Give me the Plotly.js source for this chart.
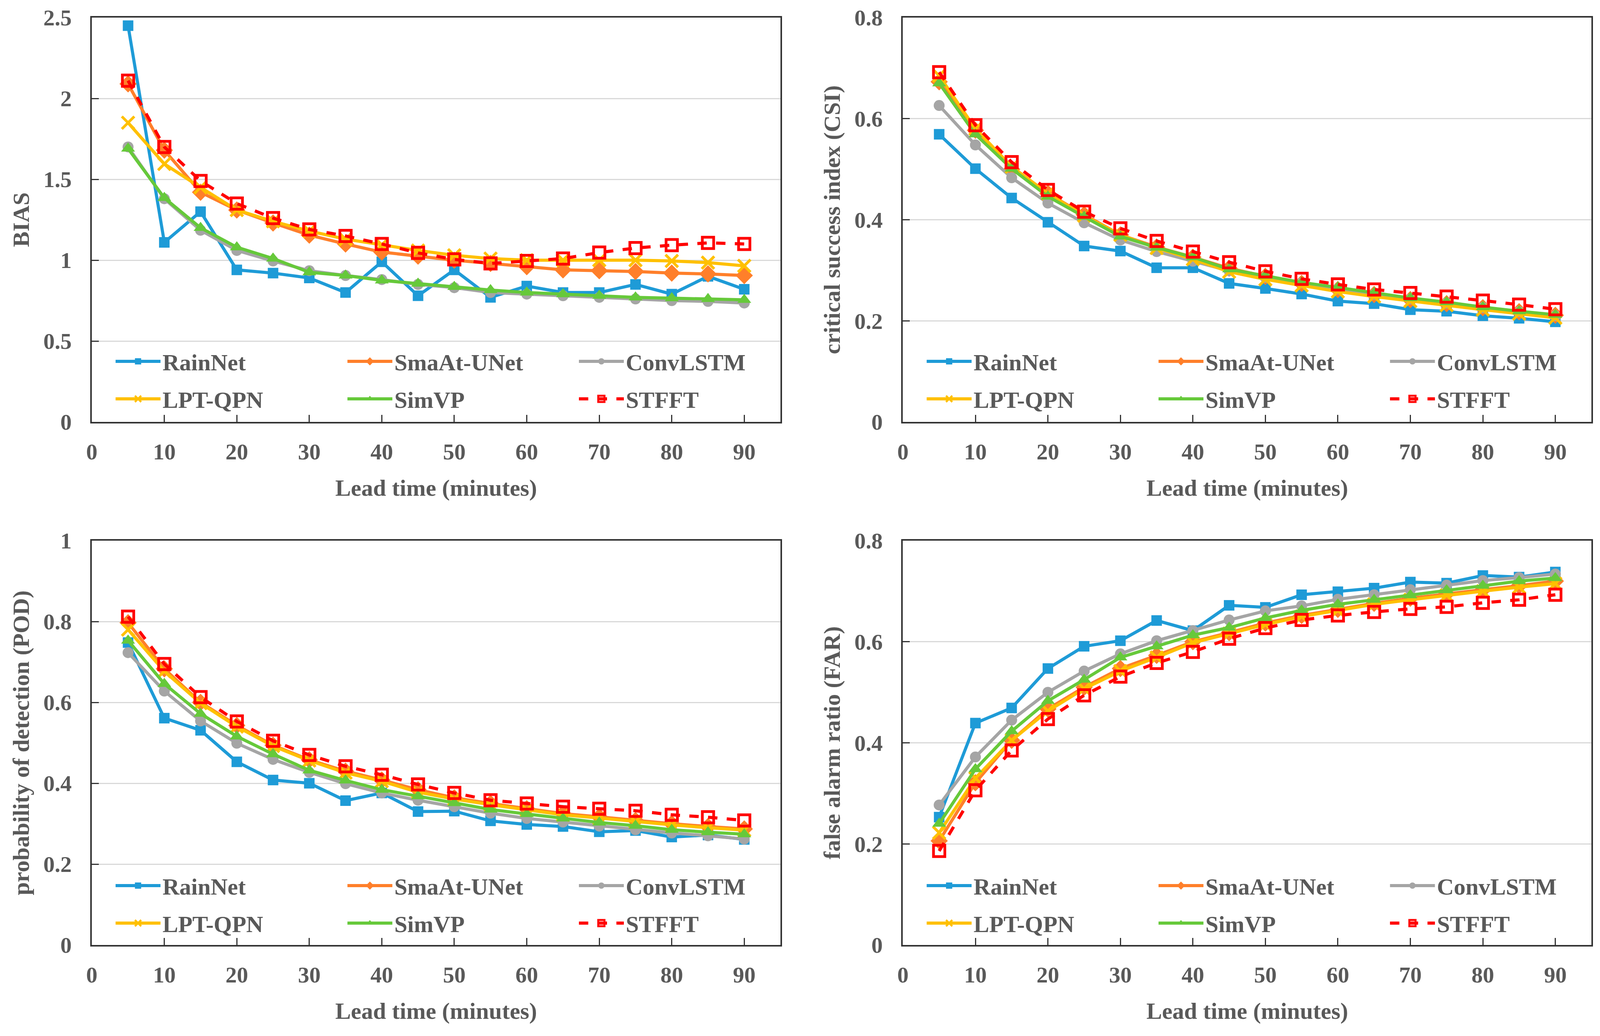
<!DOCTYPE html>
<html>
<head>
<meta charset="utf-8">
<script src="https://cdn.plot.ly/plotly-3.0.1.min.js"></script>
<style>html,body{margin:0;padding:0;background:#fff;overflow:hidden;}</style>
</head>
<body>
<div id="chart"></div>
<script>
const leadTime = [5,10,15,20,25,30,35,40,45,50,55,60,65,70,75,80,85,90];
const modelNames = ['RainNet','SmaAt-UNet','ConvLSTM','LPT-QPN','SimVP','STFFT'];

const biasRainNet   = [2.45,1.11,1.30,0.94,0.92,0.89,0.80,0.99,0.78,0.94,0.77,0.84,0.80,0.80,0.85,0.79,0.90,0.82];
const biasSmaAtUNet = [2.09,1.68,1.42,1.31,1.23,1.155,1.10,1.05,1.025,1.00,0.98,0.96,0.94,0.935,0.93,0.92,0.915,0.905];
const biasConvLSTM  = [1.70,1.38,1.185,1.06,0.995,0.935,0.905,0.88,0.85,0.83,0.80,0.79,0.78,0.77,0.76,0.75,0.745,0.735];
const biasLPTQPN    = [1.85,1.595,1.45,1.31,1.24,1.18,1.13,1.095,1.06,1.03,1.01,1.00,1.00,1.00,1.00,0.995,0.985,0.965];
const biasSimVP     = [1.69,1.385,1.20,1.08,1.01,0.925,0.905,0.875,0.855,0.835,0.815,0.80,0.79,0.78,0.77,0.765,0.76,0.755];
const biasSTFFT     = [2.11,1.70,1.49,1.35,1.26,1.19,1.15,1.10,1.045,1.005,0.98,0.995,1.01,1.047,1.075,1.093,1.107,1.10];

const csiRainNet   = [0.569,0.501,0.443,0.395,0.348,0.338,0.305,0.305,0.274,0.264,0.253,0.239,0.234,0.222,0.219,0.21,0.205,0.198];
const csiSmaAtUNet = [0.673,0.577,0.50,0.452,0.41,0.37,0.346,0.326,0.304,0.288,0.274,0.262,0.252,0.242,0.234,0.226,0.218,0.211];
const csiConvLSTM  = [0.626,0.548,0.483,0.433,0.394,0.36,0.337,0.318,0.299,0.286,0.275,0.263,0.252,0.243,0.235,0.226,0.218,0.21];
const csiLPTQPN    = [0.685,0.58,0.505,0.452,0.408,0.37,0.344,0.322,0.297,0.282,0.27,0.258,0.248,0.239,0.231,0.222,0.214,0.206];
const csiSimVP     = [0.67,0.569,0.501,0.446,0.406,0.367,0.345,0.326,0.302,0.289,0.276,0.266,0.255,0.245,0.237,0.227,0.219,0.212];
const csiSTFFT     = [0.692,0.587,0.514,0.459,0.416,0.383,0.358,0.337,0.316,0.298,0.283,0.272,0.262,0.255,0.248,0.24,0.232,0.223];

const podRainNet   = [0.748,0.561,0.531,0.453,0.408,0.40,0.357,0.376,0.33,0.331,0.307,0.298,0.293,0.28,0.283,0.267,0.272,0.261];
const podSmaAtUNet = [0.797,0.683,0.60,0.543,0.494,0.458,0.43,0.408,0.384,0.364,0.35,0.337,0.325,0.317,0.308,0.30,0.293,0.287];
const podConvLSTM  = [0.723,0.628,0.554,0.499,0.459,0.427,0.399,0.376,0.358,0.342,0.326,0.313,0.304,0.294,0.285,0.277,0.27,0.262];
const podLPTQPN    = [0.78,0.677,0.598,0.54,0.492,0.456,0.426,0.405,0.378,0.361,0.347,0.334,0.322,0.314,0.305,0.297,0.29,0.284];
const podSimVP     = [0.753,0.646,0.572,0.516,0.472,0.432,0.407,0.384,0.368,0.351,0.335,0.324,0.313,0.303,0.295,0.285,0.279,0.274];
const podSTFFT     = [0.812,0.695,0.613,0.553,0.505,0.47,0.442,0.421,0.397,0.376,0.358,0.35,0.342,0.337,0.332,0.322,0.316,0.308];

const farRainNet   = [0.253,0.439,0.469,0.547,0.591,0.602,0.642,0.622,0.672,0.668,0.693,0.699,0.706,0.718,0.716,0.731,0.728,0.738];
const farSmaAtUNet = [0.206,0.321,0.405,0.467,0.51,0.547,0.573,0.60,0.618,0.637,0.652,0.664,0.676,0.686,0.695,0.703,0.711,0.72];
const farConvLSTM  = [0.277,0.372,0.445,0.50,0.542,0.576,0.602,0.622,0.643,0.661,0.671,0.684,0.693,0.703,0.712,0.721,0.727,0.734];
const farLPTQPN    = [0.222,0.33,0.405,0.463,0.507,0.542,0.569,0.598,0.616,0.634,0.65,0.662,0.674,0.683,0.692,0.70,0.708,0.715];
const farSimVP     = [0.24,0.348,0.423,0.483,0.525,0.569,0.591,0.613,0.628,0.647,0.662,0.674,0.683,0.692,0.702,0.711,0.72,0.726];
const farSTFFT     = [0.186,0.306,0.385,0.447,0.494,0.531,0.558,0.58,0.606,0.627,0.643,0.652,0.659,0.665,0.669,0.677,0.683,0.693];

const yTitles = ['BIAS','critical success index (CSI)','probability of detection (POD)','false alarm ratio (FAR)'];
const xTitle = 'Lead time (minutes)';
const xTickVals = [0,10,20,30,40,50,60,70,80,90];

const FONT = 'Liberation Serif, "Times New Roman", serif';
const TXT = '#595959';

const styles = [
  {color:'#1E9BD7', symbol:'square', size:27, dash:'solid'},
  {color:'#FF7F2A', symbol:'diamond', size:34, dash:'solid'},
  {color:'#A5A5A5', symbol:'circle', size:28, dash:'solid'},
  {color:'#FFC000', symbol:'x-thin-open', size:32, dash:'solid'},
  {color:'#66C93A', symbol:'triangle-up', size:31, dash:'solid'},
  {color:'#FF0000', symbol:'square-open', size:29, dash:'dash'}
];

const panels = [
  {xa:'x',  ya:'y',  series:[biasRainNet,biasSmaAtUNet,biasConvLSTM,biasLPTQPN,biasSimVP,biasSTFFT]},
  {xa:'x2', ya:'y2', series:[csiRainNet,csiSmaAtUNet,csiConvLSTM,csiLPTQPN,csiSimVP,csiSTFFT]},
  {xa:'x3', ya:'y3', series:[podRainNet,podSmaAtUNet,podConvLSTM,podLPTQPN,podSimVP,podSTFFT]},
  {xa:'x4', ya:'y4', series:[farRainNet,farSmaAtUNet,farConvLSTM,farLPTQPN,farSimVP,farSTFFT]}
];

// reference frame is 4182 x 2652; the page fills the viewport width
const RW = 4182, RH = 2652;
const W = Math.min(RW, window.innerWidth || RW), H = RH;
document.getElementById('chart').style.width = W + 'px';
document.getElementById('chart').style.height = H + 'px';

const panelOffX = [0, 2120, 0, 2120];
const panelOffY = [0, 0, 1342, 1342];
const legColX = [297, 903, 1508];
const legRowY = [925, 1021];

const traces = [];
const legendDefs = {};
panels.forEach((p, pi) => {
  p.series.forEach((vals, i) => {
    const s = styles[i];
    const open = s.symbol.indexOf('open') >= 0;
    const n = pi * 6 + i + 1;
    const legId = n === 1 ? 'legend' : 'legend' + n;
    traces.push({
      type:'scatter', mode:'lines+markers', name:modelNames[i],
      x:leadTime, y:vals, xaxis:p.xa, yaxis:p.ya, legend:legId,
      line:{color:s.color, width:8, dash:s.dash},
      marker:{symbol:s.symbol, size:s.size, color:s.color,
              line:{color:s.color, width: open ? 7 : 0}},
      hoverinfo:'skip'
    });
    const col = i % 3, row = Math.floor(i / 3);
    legendDefs[legId] = {
      x:(legColX[col] + panelOffX[pi]) / RW, y:1 - (legRowY[row] + panelOffY[pi]) / RH,
      xanchor:'left', yanchor:'middle', orientation:'v',
      bgcolor:'rgba(0,0,0,0)', borderwidth:0, itemwidth:115,
      font:{family:FONT, size:60, color:TXT, weight:'bold'}
    };
  });
});

const colX = [[240/RW, 2040/RW],[2360/RW, 4160/RW]];
const rowY = [[1-1080/RH, 1-45/RH],[1-2419/RH, 1-1384/RH]];

function xAxis(dom, anchor){
  return {domain:dom, anchor:anchor, range:[0,95], tickmode:'array', tickvals:xTickVals,
    ticks:'inside', ticklen:18, tickwidth:3, tickcolor:'#333',
    showline:true, linecolor:'#333', linewidth:4, mirror:true, showgrid:false, zeroline:false,
    tickfont:{family:FONT, size:58, color:TXT, weight:'bold'}, ticklabelstandoff:22,
    title:{text:xTitle, font:{family:FONT, size:60, color:TXT, weight:'bold'}, standoff:40},
    fixedrange:true};
}
function yAxis(dom, anchor, range, dtick, title){
  return {domain:dom, anchor:anchor, range:range, dtick:dtick, tick0:0,
    ticks:'inside', ticklen:18, tickwidth:3, tickcolor:'#333',
    showline:true, linecolor:'#333', linewidth:4, mirror:true, showgrid:true, gridcolor:'#D9D9D9', gridwidth:3, zeroline:false,
    tickfont:{family:FONT, size:58, color:TXT, weight:'bold'}, ticklabelstandoff:36,
    title:{text:title, font:{family:FONT, size:60, color:TXT, weight:'bold'}, standoff:18},
    fixedrange:true};
}

const layout = Object.assign({
  width:W, height:H, paper_bgcolor:'#fff', plot_bgcolor:'#fff',
  margin:{l:0,r:0,t:0,b:0}, showlegend:true,
  xaxis: xAxis(colX[0],'y'),
  xaxis2: xAxis(colX[1],'y2'),
  xaxis3: xAxis(colX[0],'y3'),
  xaxis4: xAxis(colX[1],'y4'),
  yaxis: yAxis(rowY[0],'x',[0,2.5],0.5,yTitles[0]),
  yaxis2: yAxis(rowY[0],'x2',[0,0.8],0.2,yTitles[1]),
  yaxis3: yAxis(rowY[1],'x3',[0,1],0.2,yTitles[2]),
  yaxis4: yAxis(rowY[1],'x4',[0,0.8],0.2,yTitles[3])
}, legendDefs);

Plotly.newPlot('chart', traces, layout, {staticPlot:true, displayModeBar:false});
</script>
</body>
</html>
